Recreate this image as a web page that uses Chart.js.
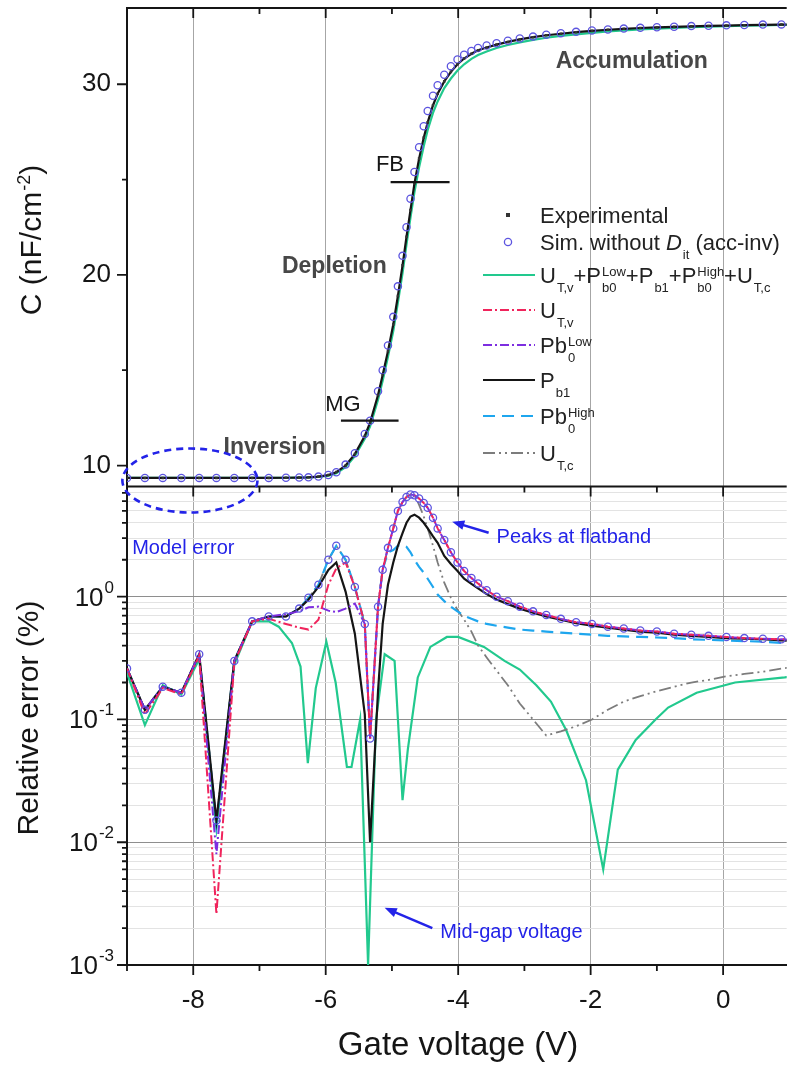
<!DOCTYPE html>
<html>
<head>
<meta charset="utf-8">
<title>C-V curve and relative error</title>
<script src="https://cdn.jsdelivr.net/npm/chart.js@4.4.1/dist/chart.umd.min.js"></script>
<style>
  html, body { margin: 0; padding: 0; background: #ffffff; }
  canvas { display: block; }
</style>
</head>
<body>
<canvas id="cvChart" width="792" height="1071"></canvas>
<script>
// gate voltage of the measured / simulated points (V)
const gateV = [-9, -8.73, -8.46, -8.18, -7.91, -7.65, -7.38, -7.11, -6.86, -6.6,
  -6.4, -6.26, -6.11, -5.96, -5.84, -5.7, -5.56, -5.41, -5.33, -5.21,
  -5.14, -5.06, -4.98, -4.91, -4.84, -4.78, -4.72, -4.66, -4.59, -4.52,
  -4.46, -4.38, -4.31, -4.21, -4.11, -4.01, -3.91, -3.8, -3.7, -3.57,
  -3.42, -3.25, -3.07, -2.87, -2.67, -2.45, -2.22, -1.98, -1.74, -1.5,
  -1.25, -1.0, -0.74, -0.48, -0.22, 0.05, 0.32, 0.6, 0.88, 1.15];

// capacitance (nF/cm-2)
const expC = [9.35, 9.35, 9.35, 9.35, 9.35, 9.35, 9.35, 9.35, 9.35, 9.36,
  9.37, 9.38, 9.42, 9.5, 9.66, 10.0, 10.6, 11.55, 12.25, 13.7,
  14.75, 16.0, 17.4, 18.9, 20.5, 22.0, 23.4, 24.8, 26.1, 27.2,
  28.0, 28.9, 29.5, 30.15, 30.65, 31.05, 31.35, 31.6, 31.78, 31.93,
  32.08, 32.22, 32.35, 32.47, 32.57, 32.65, 32.73, 32.8, 32.86, 32.91,
  32.95, 32.98, 33.01, 33.04, 33.06, 33.08, 33.1, 33.12, 33.13, 33.14];
const simC = [9.35, 9.35, 9.35, 9.35, 9.35, 9.35, 9.35, 9.35, 9.35, 9.36,
  9.37, 9.38, 9.42, 9.5, 9.65, 10.05, 10.65, 11.65, 12.35, 13.9,
  15.0, 16.3, 17.8, 19.4, 21.0, 22.5, 24.0, 25.4, 26.7, 27.8,
  28.6, 29.4, 29.95, 30.5, 30.95, 31.3, 31.55, 31.75, 31.9, 32.03,
  32.15, 32.28, 32.4, 32.5, 32.6, 32.68, 32.75, 32.82, 32.87, 32.92,
  32.96, 32.99, 33.02, 33.05, 33.07, 33.09, 33.11, 33.13, 33.14, 33.15];
const pb1C = [9.35, 9.35, 9.35, 9.35, 9.35, 9.35, 9.35, 9.35, 9.35, 9.36,
  9.37, 9.38, 9.42, 9.5, 9.65, 10.0, 10.6, 11.55, 12.25, 13.7,
  14.75, 16.0, 17.4, 18.9, 20.5, 22.0, 23.4, 24.8, 26.1, 27.2,
  28.0, 28.9, 29.5, 30.15, 30.65, 31.05, 31.35, 31.6, 31.78, 31.93,
  32.08, 32.22, 32.35, 32.47, 32.57, 32.65, 32.73, 32.8, 32.86, 32.91,
  32.95, 32.98, 33.01, 33.04, 33.06, 33.08, 33.1, 33.12, 33.13, 33.14];
const totalC = [9.35, 9.35, 9.35, 9.35, 9.35, 9.35, 9.35, 9.35, 9.35, 9.36,
  9.37, 9.38, 9.4, 9.47, 9.6, 9.92, 10.5, 11.4, 12.05, 13.45,
  14.45, 15.7, 17.05, 18.55, 20.1, 21.6, 23.0, 24.35, 25.65, 26.75,
  27.6, 28.5, 29.1, 29.8, 30.3, 30.72, 31.05, 31.33, 31.53, 31.72,
  31.9, 32.06, 32.2, 32.33, 32.44, 32.54, 32.62, 32.7, 32.77, 32.83,
  32.88, 32.92, 32.96, 32.99, 33.02, 33.05, 33.07, 33.09, 33.11, 33.12];

// relative error (%) on the same voltage grid
const simErr = [0.26, 0.12, 0.185, 0.165, 0.34, 0.015, 0.3, 0.63, 0.69, 0.69,
  0.8, 0.98, 1.25, 2.0, 2.6, 2.0, 1.2, 0.6, 0.07, 0.83,
  1.66, 2.5, 3.6, 5.0, 5.9, 6.5, 6.8, 6.7, 6.3, 5.8,
  5.3, 4.4, 3.6, 2.9, 2.3, 1.9, 1.62, 1.42, 1.28, 1.13,
  1.0, 0.92, 0.83, 0.76, 0.71, 0.66, 0.62, 0.6, 0.57, 0.55,
  0.53, 0.52, 0.5, 0.49, 0.48, 0.47, 0.46, 0.455, 0.45, 0.445];
const utvErr = [0.26, 0.11, 0.18, 0.16, 0.33, 0.0026, 0.29, 0.63, 0.66, 0.6,
  0.56, 0.54, 0.65, 1.25, 1.7, 1.9, 1.2, 0.6, 0.07, 0.83,
  1.66, 2.5, 3.6, 5.0, 5.9, 6.5, 6.8, 6.7, 6.3, 5.8,
  5.3, 4.4, 3.6, 2.9, 2.3, 1.9, 1.62, 1.42, 1.28, 1.13,
  1.0, 0.92, 0.83, 0.76, 0.71, 0.66, 0.62, 0.6, 0.57, 0.55,
  0.53, 0.52, 0.5, 0.49, 0.48, 0.47, 0.46, 0.455, 0.45, 0.445];
const pb0LowErr = [0.26, 0.12, 0.185, 0.165, 0.34, 0.008, 0.3, 0.63, 0.69, 0.72,
  0.76, 0.82, 0.83, 0.77, 0.75, 0.8, 0.88, 0.6, 0.07, 0.83,
  1.66, 2.5, 3.6, 5.0, 5.9, 6.5, 6.8, 6.7, 6.3, 5.8,
  5.3, 4.4, 3.6, 2.9, 2.3, 1.9, 1.62, 1.42, 1.28, 1.13,
  1.0, 0.92, 0.83, 0.76, 0.71, 0.66, 0.62, 0.6, 0.57, 0.55,
  0.53, 0.52, 0.5, 0.49, 0.48, 0.47, 0.46, 0.455, 0.45, 0.445];
const pb1Err = [0.26, 0.12, 0.185, 0.165, 0.34, 0.015, 0.3, 0.63, 0.69, 0.69,
  0.8, 0.95, 1.2, 1.65, 1.9, 1.1, 0.5, 0.11, 0.01, 0.17,
  0.6, 1.25, 1.9, 2.6, 3.3, 4.0, 4.5, 4.66, 4.4, 4.0,
  3.6, 3.1, 2.75, 2.15, 1.85, 1.62, 1.4, 1.27, 1.17, 1.05,
  0.95, 0.87, 0.8, 0.74, 0.69, 0.65, 0.61, 0.58, 0.56, 0.54,
  0.52, 0.51, 0.49, 0.48, 0.47, 0.46, 0.455, 0.45, 0.44, 0.435];
const pb0HighErr = [0.26, 0.12, 0.185, 0.165, 0.34, 0.014, 0.3, 0.63, 0.69, 0.69,
  0.8, 0.98, 1.25, 2.0, 2.6, 2.0, 1.2, 0.6, 0.07, 0.83,
  1.66, 2.3, 2.4, 2.6, 2.65, 2.55, 2.3, 2.0, 1.75, 1.57,
  1.4, 1.2, 1.04, 0.92, 0.83, 0.76, 0.7, 0.66, 0.63, 0.6,
  0.58, 0.56, 0.54, 0.53, 0.52, 0.51, 0.5, 0.49, 0.48, 0.475,
  0.47, 0.465, 0.46, 0.45, 0.445, 0.44, 0.435, 0.43, 0.42, 0.415];
const utcErr = [0.26, 0.12, 0.185, 0.165, 0.34, 0.015, 0.3, 0.63, 0.69, 0.69,
  0.8, 0.98, 1.25, 2.0, 2.6, 2.0, 1.2, 0.6, 0.07, 0.83,
  1.66, 2.5, 3.6, 5.0, 5.9, 6.5, 6.8, 6.7, 5.6, 4.5,
  3.6, 2.6, 1.9, 1.3, 0.98, 0.78, 0.65, 0.52, 0.4, 0.32,
  0.25, 0.19, 0.135, 0.1, 0.074, 0.08, 0.088, 0.1, 0.12, 0.14,
  0.155, 0.17, 0.185, 0.2, 0.21, 0.225, 0.235, 0.245, 0.26, 0.27];

// the summed model (UT,v + Pb0 + Pb1 + Pb0 + UT,c) has its own points
const totalV = [-9, -8.73, -8.46, -8.18, -7.91, -7.65, -7.38, -7.11, -6.86, -6.71,
  -6.51, -6.38, -6.27, -6.15, -5.99, -5.85, -5.68, -5.61, -5.48, -5.36,
  -5.24, -5.11, -4.96, -4.84, -4.76, -4.61, -4.42, -4.17, -4.0, -3.61,
  -3.3, -3.07, -2.82, -2.6, -2.37, -2.07, -1.81, -1.59, -1.32, -1.02,
  -0.83, -0.4, 0.18, 0.93, 1.15];
const totalErr = [0.24, 0.09, 0.19, 0.16, 0.31, 0.013, 0.28, 0.63, 0.63, 0.57,
  0.42, 0.27, 0.044, 0.18, 0.43, 0.2, 0.041, 0.041, 0.1, 0.001,
  0.1, 0.34, 0.3, 0.022, 0.057, 0.22, 0.39, 0.47, 0.47, 0.39,
  0.3, 0.255, 0.19, 0.14, 0.082, 0.032, 0.006, 0.039, 0.068, 0.1,
  0.125, 0.165, 0.2, 0.22, 0.23];

const xTickValues = [-9, -8, -7, -6, -5, -4, -3, -2, -1, 0];
const cTickValues = [10, 15, 20, 25, 30];
const errDecades = [0.001, 0.01, 0.1, 1];

const FONT = "'Liberation Sans', Arial, Helvetica, sans-serif";
const INK = '#151515';
const GREEN = '#22c98e';
const RED = '#f0245c';
const PURPLE = '#7d2ee0';
const CYAN = '#1ea6ee';
const GREY = '#7c7c7c';
const SIMBLUE = '#5d55e0';
const NOTEBLUE = '#2323e8';

Chart.defaults.font.family = FONT;
Chart.defaults.color = INK;

const pts = (xs, ys) => xs.map((v, i) => ({ x: v, y: ys[i] }));

function curve(label, xs, ys, axis, colour, dash, width) {
  return {
    label: label, data: pts(xs, ys), yAxisID: axis, showLine: true,
    pointRadius: 0, borderColor: colour, borderWidth: width,
    borderDash: dash, tension: 0, fill: false
  };
}

// no extra layout padding from tick labels, the panels must fill the frame
function noPad(s) {
  s.paddingTop = 0;
  s.paddingBottom = 0;
  s.paddingLeft = 0;
  s.paddingRight = 0;
}

// ---------- rich text helpers (sub / superscripts) ----------
function richWidth(ctx, parts, size, small) {
  let w = 0;
  for (const p of parts) {
    if (p.t) {
      ctx.font = (p.it ? 'italic ' : '') + size + 'px ' + FONT;
      w += ctx.measureText(p.t).width;
    }
    ctx.font = small + 'px ' + FONT;
    const a = p.sub ? ctx.measureText(p.sub).width : 0;
    const b = p.sup ? ctx.measureText(p.sup).width : 0;
    if (a || b) w += Math.max(a, b) + 1;
  }
  return w;
}

function drawRich(ctx, parts, x, y, size, colour, small, supDy) {
  ctx.fillStyle = colour;
  ctx.textAlign = 'left';
  ctx.textBaseline = 'alphabetic';
  let cx = x;
  for (const p of parts) {
    if (p.t) {
      ctx.font = (p.it ? 'italic ' : '') + size + 'px ' + FONT;
      ctx.fillText(p.t, cx, y);
      cx += ctx.measureText(p.t).width;
    }
    ctx.font = small + 'px ' + FONT;
    let w = 0;
    if (p.sub) {
      ctx.fillText(p.sub, cx + 1, y + size * 0.4);
      w = ctx.measureText(p.sub).width;
    }
    if (p.sup) {
      ctx.fillText(p.sup, cx + 1, y - size * supDy);
      w = Math.max(w, ctx.measureText(p.sup).width);
    }
    if (w) cx += w + 1;
  }
}

function arrow(ctx, x0, y0, x1, y1, colour) {
  const ang = Math.atan2(y1 - y0, x1 - x0);
  const h = 13;
  ctx.strokeStyle = colour;
  ctx.fillStyle = colour;
  ctx.lineWidth = 2.5;
  ctx.setLineDash([]);
  ctx.beginPath();
  ctx.moveTo(x0, y0);
  ctx.lineTo(x1 - 9 * Math.cos(ang), y1 - 9 * Math.sin(ang));
  ctx.stroke();
  ctx.beginPath();
  ctx.moveTo(x1, y1);
  ctx.lineTo(x1 - h * Math.cos(ang - 0.38), y1 - h * Math.sin(ang - 0.38));
  ctx.lineTo(x1 - h * Math.cos(ang + 0.38), y1 - h * Math.sin(ang + 0.38));
  ctx.closePath();
  ctx.fill();
}

const legendRows = [
  { y: 215, mark: 'rect', parts: [{ t: 'Experimental' }] },
  { y: 242, mark: 'circle', parts: [{ t: 'Sim. without ' }, { t: 'D', it: true, sub: 'it' }, { t: ' (acc-inv)' }] },
  { y: 275, colour: GREEN, dash: [], width: 2.2,
    parts: [{ t: 'U', sub: 'T,v' }, { t: '+P', sub: 'b0', sup: 'Low' }, { t: '+P', sub: 'b1' }, { t: '+P', sub: 'b0', sup: 'High' }, { t: '+U', sub: 'T,c' }] },
  { y: 310, colour: RED, dash: [9, 3, 2, 3], width: 2, parts: [{ t: 'U', sub: 'T,v' }] },
  { y: 345, colour: PURPLE, dash: [9, 3, 2, 3], width: 2, parts: [{ t: 'Pb', sub: '0', sup: 'Low' }] },
  { y: 380, colour: INK, dash: [], width: 2.2, parts: [{ t: 'P', sub: 'b1' }] },
  { y: 416, colour: CYAN, dash: [12, 7], width: 2.2, parts: [{ t: 'Pb', sub: '0', sup: 'High' }] },
  { y: 453, colour: GREY, dash: [12, 4, 2, 4, 2, 4], width: 1.8, parts: [{ t: 'U', sub: 'T,c' }] }
];

const decor = {
  id: 'decor',
  afterDatasetsDraw(chart) {
    const { ctx, chartArea: a } = chart;
    const { x, yC, yErr } = chart.scales;
    ctx.save();

    // frame lines (top border and panel separator)
    ctx.strokeStyle = INK;
    ctx.lineWidth = 2;
    ctx.setLineDash([]);
    ctx.beginPath();
    ctx.moveTo(a.left, a.top); ctx.lineTo(a.right, a.top);
    ctx.moveTo(a.left, yErr.top); ctx.lineTo(a.right, yErr.top);
    ctx.stroke();

    // tick marks
    ctx.lineWidth = 1.8;
    ctx.beginPath();
    for (const t of x.ticks) {
      const px = x.getPixelForValue(t.value);
      const len = t.value % 2 === 0 ? 10 : 6;
      ctx.moveTo(px, a.top); ctx.lineTo(px, a.top + len);
      ctx.moveTo(px, yErr.top); ctx.lineTo(px, yErr.top + len);
      ctx.moveTo(px, a.bottom); ctx.lineTo(px, a.bottom + len);
    }
    for (const s of [yC, yErr]) {
      for (const t of s.ticks) {
        const py = s.getPixelForValue(t.value);
        const len = t.major ? 10 : 5;
        ctx.moveTo(a.left, py); ctx.lineTo(a.left - len, py);
      }
    }
    ctx.stroke();

    // decade labels of the error axis
    for (const d of errDecades) {
      const py = yErr.getPixelForValue(d);
      const ex = String(Math.round(Math.log10(d)));
      ctx.font = '17px ' + FONT;
      const we = ctx.measureText(ex).width;
      ctx.font = '26px ' + FONT;
      const wb = ctx.measureText('10').width;
      const right = a.left - 13;
      ctx.fillStyle = INK;
      ctx.textBaseline = 'alphabetic';
      ctx.textAlign = 'left';
      ctx.fillText('10', right - we - wb - 1, py + 9);
      ctx.font = '17px ' + FONT;
      ctx.fillText(ex, right - we, py - 4);
    }

    // axis titles
    ctx.save();
    ctx.translate(30, 240);
    ctx.rotate(-Math.PI / 2);
    const cTitle = [{ t: 'C (nF/cm', sup: '-2' }, { t: ')' }];
    const cw = richWidth(ctx, cTitle, 30, 18);
    drawRich(ctx, cTitle, -cw / 2, 11, 30, INK, 18, 0.38);
    ctx.restore();

    ctx.save();
    ctx.translate(30, 718);
    ctx.rotate(-Math.PI / 2);
    ctx.font = '30px ' + FONT;
    ctx.textAlign = 'center';
    ctx.textBaseline = 'middle';
    ctx.fillStyle = INK;
    ctx.fillText('Relative error (%)', 0, 0);
    ctx.restore();

    ctx.font = '33px ' + FONT;
    ctx.textAlign = 'center';
    ctx.textBaseline = 'middle';
    ctx.fillStyle = INK;
    ctx.fillText('Gate voltage (V)', 458, 1046);

    // region labels
    ctx.font = 'bold 23px ' + FONT;
    ctx.fillStyle = '#474747';
    ctx.fillText('Accumulation', x.getPixelForValue(-1.38), yC.getPixelForValue(31.2));
    ctx.fillText('Depletion', x.getPixelForValue(-5.87), yC.getPixelForValue(20.45));
    ctx.fillText('Inversion', x.getPixelForValue(-6.77), yC.getPixelForValue(10.95));

    // flat-band and mid-gap markers
    ctx.font = '22px ' + FONT;
    ctx.fillStyle = INK;
    ctx.fillText('FB', x.getPixelForValue(-5.03), yC.getPixelForValue(25.75));
    ctx.fillText('MG', x.getPixelForValue(-5.74), yC.getPixelForValue(13.2));
    ctx.strokeStyle = INK;
    ctx.lineWidth = 2.2;
    ctx.beginPath();
    ctx.moveTo(x.getPixelForValue(-5.02), yC.getPixelForValue(24.87));
    ctx.lineTo(x.getPixelForValue(-4.13), yC.getPixelForValue(24.87));
    ctx.moveTo(x.getPixelForValue(-5.77), yC.getPixelForValue(12.36));
    ctx.lineTo(x.getPixelForValue(-4.9), yC.getPixelForValue(12.36));
    ctx.stroke();

    // model error ellipse
    const ex0 = x.getPixelForValue(-8.05);
    const erx = x.getPixelForValue(-7.03) - ex0;
    ctx.strokeStyle = NOTEBLUE;
    ctx.lineWidth = 2.6;
    ctx.setLineDash([7, 5]);
    ctx.beginPath();
    ctx.ellipse(ex0, yErr.top - 6, erx, 32, 0, 0, Math.PI * 2);
    ctx.stroke();
    ctx.setLineDash([]);

    ctx.font = '20px ' + FONT;
    ctx.fillStyle = NOTEBLUE;
    ctx.textAlign = 'center';
    ctx.fillText('Model error', x.getPixelForValue(-8.15), yErr.getPixelForValue(2.46));
    ctx.textAlign = 'left';
    ctx.fillText('Peaks at flatband', x.getPixelForValue(-3.42), yErr.getPixelForValue(3.03));
    ctx.fillText('Mid-gap voltage', x.getPixelForValue(-4.27), yErr.getPixelForValue(0.00183));
    arrow(ctx, x.getPixelForValue(-3.54), yErr.getPixelForValue(3.32),
      x.getPixelForValue(-4.09), yErr.getPixelForValue(4.08), NOTEBLUE);
    arrow(ctx, x.getPixelForValue(-4.39), yErr.getPixelForValue(0.002),
      x.getPixelForValue(-5.11), yErr.getPixelForValue(0.00292), NOTEBLUE);

    // legend
    for (const row of legendRows) {
      if (row.mark === 'rect') {
        ctx.fillStyle = '#333';
        ctx.fillRect(506, row.y - 2, 4, 4);
      } else if (row.mark === 'circle') {
        ctx.strokeStyle = SIMBLUE;
        ctx.lineWidth = 1.3;
        ctx.beginPath();
        ctx.arc(508, row.y, 3.6, 0, Math.PI * 2);
        ctx.stroke();
      } else {
        ctx.strokeStyle = row.colour;
        ctx.lineWidth = row.width;
        ctx.setLineDash(row.dash);
        ctx.beginPath();
        ctx.moveTo(483, row.y);
        ctx.lineTo(535, row.y);
        ctx.stroke();
        ctx.setLineDash([]);
      }
      drawRich(ctx, row.parts, 540, row.y + 8, 22, '#222', 13, 0.3);
    }
    ctx.restore();
  }
};

const datasets = [
  { label: 'Experimental', data: pts(gateV, expC), yAxisID: 'yC', showLine: false,
    pointStyle: 'rect', pointRadius: 1.8, pointBackgroundColor: '#333', pointBorderColor: '#333', pointBorderWidth: 0 },
  { label: 'Sim. without Dit (acc-inv)', data: pts(gateV, simC), yAxisID: 'yC', showLine: false,
    pointStyle: 'circle', pointRadius: 3.6, pointBackgroundColor: 'rgba(0,0,0,0)', pointBorderColor: SIMBLUE, pointBorderWidth: 1.3 },
  { label: 'Sim. without Dit (acc-inv)', data: pts(gateV, simErr), yAxisID: 'yErr', showLine: false,
    pointStyle: 'circle', pointRadius: 3.6, pointBackgroundColor: 'rgba(0,0,0,0)', pointBorderColor: SIMBLUE, pointBorderWidth: 1.3 },
  curve('UT,v', gateV, utvErr, 'yErr', RED, [9, 3, 2, 3], 2),
  curve('Pb0 Low', gateV, pb0LowErr, 'yErr', PURPLE, [9, 3, 2, 3], 2),
  curve('Pb1', gateV, pb1Err, 'yErr', INK, [], 2.2),
  curve('Pb1', gateV, pb1C, 'yC', INK, [], 2.2),
  curve('Pb0 High', gateV, pb0HighErr, 'yErr', CYAN, [12, 7], 2.2),
  curve('UT,c', gateV, utcErr, 'yErr', GREY, [12, 4, 2, 4, 2, 4], 1.8),
  curve('UT,v+Pb0Low+Pb1+Pb0High+UT,c', totalV, totalErr, 'yErr', GREEN, [], 2.2),
  curve('UT,v+Pb0Low+Pb1+Pb0High+UT,c', gateV, totalC, 'yC', GREEN, [], 2.2)
];

new Chart(document.getElementById('cvChart'), {
  type: 'scatter',
  data: { datasets: datasets },
  options: {
    responsive: false,
    animation: false,
    devicePixelRatio: 1,
    layout: { padding: { top: 8, right: 0, bottom: 0, left: 0 } },
    plugins: { legend: { display: false }, tooltip: { enabled: false } },
    scales: {
      x: {
        type: 'linear', position: 'bottom', min: -9, max: 0.96,
        afterBuildTicks: s => { s.ticks = xTickValues.map(v => ({ value: v })); },
        ticks: { callback: v => (v % 2 === 0 ? String(v) : ''), font: { size: 26 }, color: INK, padding: 20, maxRotation: 0, autoSkip: false },
        grid: { color: c => (c.tick && c.tick.value % 2 === 0 && c.tick.value !== -9 ? '#a6a6a6' : 'rgba(0,0,0,0)'), lineWidth: 1, drawTicks: false },
        border: { color: INK, width: 2 },
        afterFit: s => { s.height = 106; noPad(s); }
      },
      yErr: {
        type: 'logarithmic', axis: 'y', position: 'left', stack: 'panels', stackWeight: 1,
        min: 0.001, max: 7.9,
        afterBuildTicks: s => {
          const t = [];
          for (const d of errDecades) {
            for (let m = 1; m <= 9; m++) {
              if (d * m <= 7.9) t.push({ value: d * m, major: m === 1 });
            }
          }
          s.ticks = t;
        },
        ticks: { callback: () => '', autoSkip: false, padding: 0 },
        grid: { color: c => (c.tick && c.tick.major ? '#8e8e8e' : '#e3e3e3'), lineWidth: 1, drawTicks: false },
        border: { color: INK, width: 2 },
        afterFit: s => { s.width = 127; noPad(s); }
      },
      yC: {
        type: 'linear', axis: 'y', position: 'left', stack: 'panels', stackWeight: 1,
        min: 8.9, max: 34,
        afterBuildTicks: s => { s.ticks = cTickValues.map(v => ({ value: v, major: v % 10 === 0 })); },
        ticks: { callback: v => (v % 10 === 0 ? String(v) : ''), font: { size: 26 }, color: INK, padding: 16, autoSkip: false },
        grid: { drawOnChartArea: false, drawTicks: false },
        border: { color: INK, width: 2 },
        afterFit: s => { s.width = 127; noPad(s); }
      }
    }
  },
  plugins: [decor]
});
</script>
</body>
</html>
